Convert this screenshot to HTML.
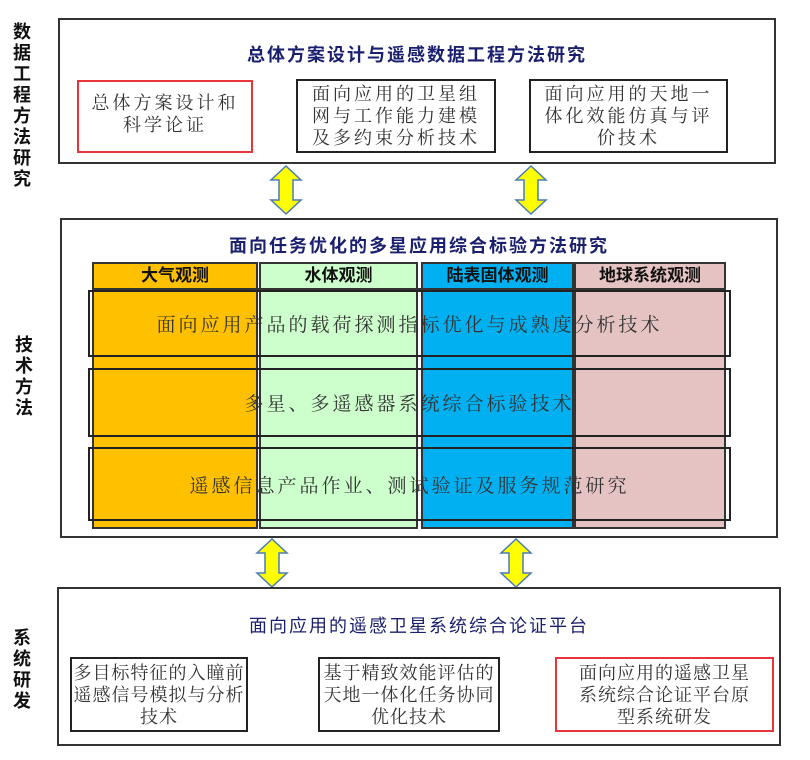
<!DOCTYPE html>
<html><head><meta charset="utf-8"><style>
body{margin:0;width:810px;height:760px;background:#fff;position:relative;overflow:hidden;font-family:"Liberation Serif","Noto Serif CJK SC",serif;}
.a{position:absolute;box-sizing:border-box;}
.box{border:2px solid #333;background:#fff;}
.sub{border:2px solid #222;background:#fff;color:#333;font-size:18px;letter-spacing:3px;line-height:22px;text-align:center;display:flex;align-items:center;justify-content:center;padding:2px 0;white-space:nowrap;}
.sm{letter-spacing:1px;}
.red{border-color:#e8353b;}
.side{font-family:"Liberation Sans","Noto Sans CJK SC",sans-serif;font-weight:bold;font-size:18px;line-height:21px;width:24px;text-align:center;color:#111;}
.ttl{font-family:"Liberation Sans","Noto Sans CJK SC",sans-serif;font-weight:bold;color:#1a1f6e;font-size:18px;letter-spacing:2px;text-align:center;}
.col{border:2px solid #333;}
.hd{font-family:"Liberation Sans","Noto Sans CJK SC",sans-serif;font-weight:bold;font-size:17px;text-align:center;line-height:26px;color:#111;}
.row{border:2px solid #222;font-size:19px;letter-spacing:3px;color:#333;display:flex;align-items:center;justify-content:center;}
</style></head><body>
<div class="a side" style="left:10px;top:22px;">数据工程方法研究</div>
<div class="a side" style="left:12px;top:335px;">技术方法</div>
<div class="a side" style="left:10px;top:628px;">系统研发</div>

<div class="a box" style="left:58px;top:18px;width:718px;height:146px;"></div>
<div class="a ttl" style="left:58px;top:41px;width:718px;">总体方案设计与遥感数据工程方法研究</div>
<div class="a sub red" style="left:77px;top:80px;width:176px;height:73px;align-items:flex-start;padding-top:10px;">总体方案设计和<br>科学论证</div>
<div class="a sub" style="left:296px;top:79px;width:200px;height:74px;">面向应用的卫星组<br>网与工作能力建模<br>及多约束分析技术</div>
<div class="a sub" style="left:529px;top:79px;width:199px;height:74px;">面向应用的天地一<br>体化效能仿真与评<br>价技术</div>

<svg class="a" style="left:0;top:0" width="810" height="760">
<defs><path id="ar" d="M0,-24 L15,-10 L7,-10 L7,10 L15,10 L0,24 L-15,10 L-7,10 L-7,-10 L-15,-10 Z" fill="#ffff00" stroke="#4a7bb7" stroke-width="1.5"/></defs>
<use href="#ar" x="286" y="190"/><use href="#ar" x="531" y="190"/>
<use href="#ar" x="272" y="563"/><use href="#ar" x="516" y="563"/>
</svg>

<div class="a box" style="left:60px;top:218px;width:718px;height:320px;"></div>
<div class="a ttl" style="left:60px;top:232px;width:718px;">面向任务优化的多星应用综合标验方法研究</div>
<div class="a col" style="left:92px;top:262px;width:166px;height:267px;background:#ffc000;"></div>
<div class="a col" style="left:259px;top:262px;width:159px;height:267px;background:#ccffcc;"></div>
<div class="a col" style="left:421px;top:262px;width:153px;height:267px;background:#00b0f0;"></div>
<div class="a col" style="left:574px;top:262px;width:152px;height:267px;background:#e6c3c3;"></div>
<div class="a hd" style="left:92px;top:263px;width:166px;">大气观测</div>
<div class="a hd" style="left:259px;top:263px;width:159px;">水体观测</div>
<div class="a hd" style="left:421px;top:263px;width:153px;">陆表固体观测</div>
<div class="a hd" style="left:574px;top:263px;width:152px;">地球系统观测</div>
<div class="a" style="left:92px;top:288px;width:634px;border-top:2px solid #333;"></div>
<div class="a row" style="left:88px;top:290px;width:643px;height:67px;">面向应用产品的载荷探测指标优化与成熟度分析技术</div>
<div class="a row" style="left:88px;top:368px;width:643px;height:69px;">多星、多遥感器系统综合标验技术</div>
<div class="a row" style="left:88px;top:447px;width:643px;height:74px;">遥感信息产品作业、测试验证及服务规范研究</div>

<div class="a box" style="left:57px;top:587px;width:724px;height:159px;"></div>
<div class="a" style="left:57px;top:612px;width:724px;text-align:center;font-family:'Liberation Sans','Noto Sans CJK SC',sans-serif;color:#1a1f6e;font-size:18px;letter-spacing:2px;">面向应用的遥感卫星系统综合论证平台</div>
<div class="a sub sm" style="left:70px;top:657px;width:178px;height:75px;">多目标特征的入瞳前<br>遥感信号模拟与分析<br>技术</div>
<div class="a sub sm" style="left:318px;top:657px;width:182px;height:75px;">基于精致效能评估的<br>天地一体化任务协同<br>优化技术</div>
<div class="a sub sm" style="left:555px;top:657px;width:219px;height:75px;border-color:#e8353b;">面向应用的遥感卫星<br>系统综合论证平台原<br>型系统研发</div>
</body></html>
